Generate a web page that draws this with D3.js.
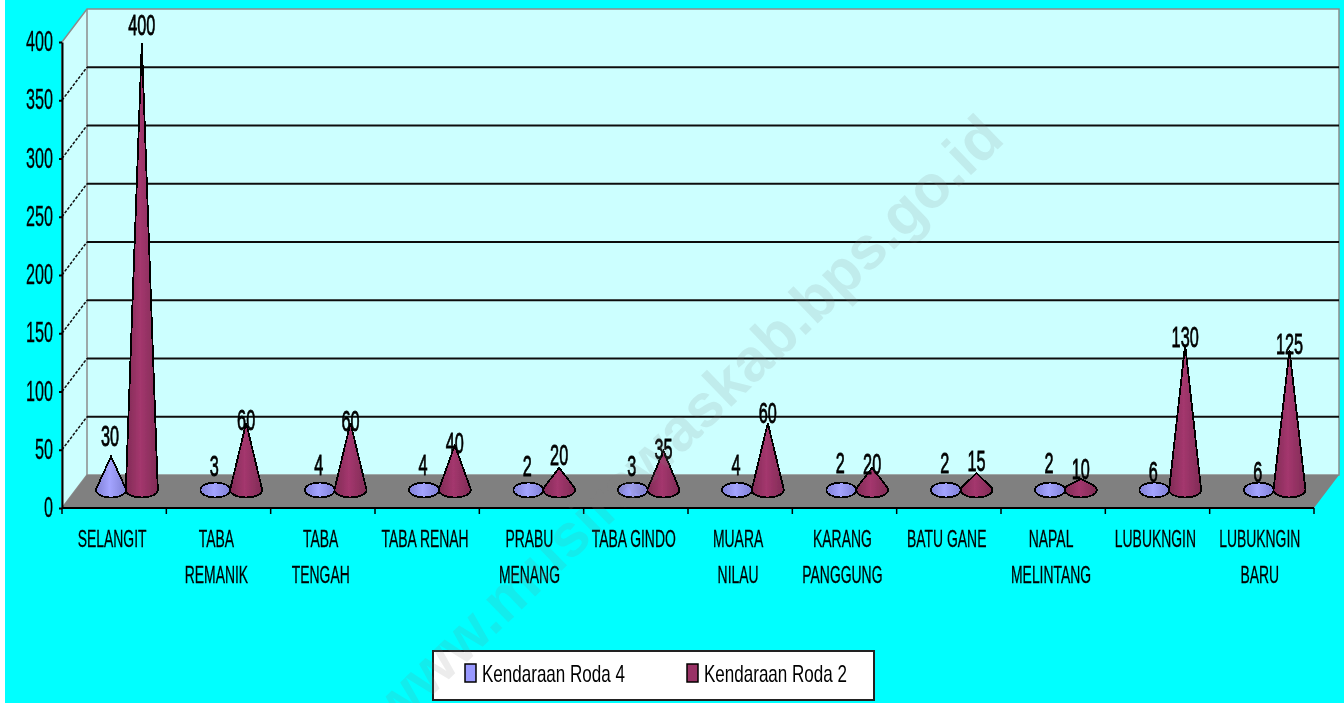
<!DOCTYPE html>
<html lang="en">
<head>
  <meta charset="UTF-8">
  <script src="https://d3js.org/d3.v7.min.js"></script>
  <title>Kendaraan Roda 4 dan Roda 2</title>
  <style>
    html, body { margin: 0; padding: 0; background: #00ffff; overflow: hidden; }
    svg { display: block; }
    text { font-family: "Liberation Sans", Arial, sans-serif; fill: #000; }
  </style>
</head>
<body>
  <svg width="1344" height="703"></svg>

  <script>
    const width = 1344, height = 703;

    // Values
    const categories = ["SELANGIT", "TABA\nREMANIK", "TABA\nTENGAH", "TABA RENAH", "PRABU\nMENANG", "TABA GINDO",
      "MUARA\nNILAU", "KARANG\nPANGGUNG", "BATU GANE", "NAPAL\nMELINTANG", "LUBUKNGIN", "LUBUKNGIN\nBARU"];
    const seriesNames = ["Kendaraan Roda 4", "Kendaraan Roda 2"];
    const roda4 = [30, 3, 4, 4, 2, 3, 4, 2, 2, 2, 6, 6];
    const roda2 = [400, 60, 60, 40, 20, 35, 60, 20, 15, 10, 130, 125];
    const yTicks = [0, 50, 100, 150, 200, 250, 300, 350, 400];
    const seriesColors = ["#9999ff", "#993366"];

    // pixels between cone tip and its value label, the original labels were placed unevenly
    const labelLift4 = [20, 21, 20, 20, 22, 21, 20, 25, 25, 25, 11, 11];
    const labelLift2 = [18, 3, 2, 2, 13, 2, 10, 4, 12, 10, 8, 6];

    // Excel style 3D box: front plane plus an offset back wall
    const front = { left: 62, right: 1314, bottom: 508, top: 42 };
    const depthX = 25, depthY = -33;

    const svg = d3.select("svg");

    const defs = svg.append("defs");
    defs.append("filter").attr("id", "soft")
      .attr("filterUnits", "userSpaceOnUse")
      .attr("x", 0).attr("y", 0).attr("width", width).attr("height", height)
      .append("feGaussianBlur").attr("stdDeviation", 0.45);

    seriesColors.forEach((c, i) => {
      const g = defs.append("linearGradient").attr("id", "cone" + i);
      g.append("stop").attr("offset", "0%").attr("stop-color", d3.color(c).darker(0.5));
      g.append("stop").attr("offset", "45%").attr("stop-color", d3.color(c).brighter(0.2));
      g.append("stop").attr("offset", "100%").attr("stop-color", d3.color(c).darker(0.5));
    });

    const root = svg.append("g").attr("filter", "url(#soft)");

    root.append("rect").attr("width", 5).attr("height", height).attr("fill", "#fff");

    const x = d3.scaleBand().domain(categories).range([front.left, front.right]);
    const y = d3.scaleLinear().domain([0, 400]).range([front.bottom, front.top]);
    // cones stand in the middle of the floor, so they get their own base line
    const coneY = d3.scaleLinear().domain([0, 400]).range([490, 43]);
    const xSeries = d3.scalePoint().domain(seriesNames).range([x.bandwidth() * 0.47, x.bandwidth() * 0.765]);

    // walls and floor
    const wall = root.append("g");
    wall.append("polygon")
      .attr("points", [
        [front.left, y(400)], [front.left + depthX, y(400) + depthY],
        [front.right + depthX, y(400) + depthY], [front.right + depthX, y(0) + depthY],
        [front.left + depthX, y(0) + depthY], [front.left, y(0)]
      ].join(" "))
      .attr("fill", "#ccffff")
      .attr("stroke", "#8c8c8c")
      .attr("stroke-width", 1.5);
    wall.append("line")
      .attr("x1", front.left + depthX).attr("x2", front.left + depthX)
      .attr("y1", y(400) + depthY).attr("y2", y(0) + depthY)
      .attr("stroke", "#8c8c8c").attr("stroke-width", 1.5);
    wall.append("polygon")
      .attr("points", [
        [front.left, y(0)], [front.left + depthX, y(0) + depthY],
        [front.right + depthX, y(0) + depthY], [front.right, y(0)]
      ].join(" "))
      .attr("fill", "#808080");

    // gridlines on the back wall, dashed where they run along the side wall
    const gridTicks = yTicks.filter(d => d > 0 && d < 400);
    root.append("g").selectAll("line").data(gridTicks).enter().append("line")
      .attr("x1", front.left + depthX).attr("x2", front.right + depthX)
      .attr("y1", d => y(d) + depthY).attr("y2", d => y(d) + depthY)
      .attr("stroke", "#111").attr("stroke-width", 2.2);
    root.append("g").selectAll("line").data(gridTicks).enter().append("line")
      .attr("x1", front.left).attr("x2", front.left + depthX)
      .attr("y1", d => y(d)).attr("y2", d => y(d) + depthY)
      .attr("stroke", "#111").attr("stroke-width", 1.5).attr("stroke-dasharray", "3 1.5");

    // axes
    const yAxis = root.append("g").attr("transform", `translate(${front.left},0)`)
      .call(d3.axisLeft(y).tickValues(yTicks).tickSize(3).tickSizeOuter(0));
    yAxis.selectAll(".domain, line").attr("stroke", "#000").attr("stroke-width", 2);
    yAxis.selectAll("text")
      .attr("x", 0).attr("dy", null)
      .attr("dominant-baseline", "central")
      .attr("transform", "translate(-9,-2) scale(0.54,1)")
      .attr("font-size", 30)
      .attr("stroke", "#000")
      .attr("stroke-width", 0.3)
      .style("font-family", null);

    const xAxis = root.append("g").attr("transform", `translate(0,${front.bottom})`);
    xAxis.append("line")
      .attr("x1", front.left).attr("x2", front.right)
      .attr("stroke", "#000").attr("stroke-width", 2);
    xAxis.selectAll("line.tick").data(d3.range(categories.length + 1)).enter().append("line")
      .attr("class", "tick")
      .attr("x1", i => front.left + i * x.step()).attr("x2", i => front.left + i * x.step())
      .attr("y2", 6)
      .attr("stroke", "#000").attr("stroke-width", 1.5);

    // category labels, two lines where the original wraps
    root.append("g").selectAll("g").data(categories).enter().append("g")
      .attr("transform", d => `translate(${x(d) + x.bandwidth() * 0.48},0)`)
      .selectAll("text").data(d => d.split("\n")).enter().append("text")
      .attr("transform", (d, i) => `translate(0,${538 + i * 36}) scale(0.58,1)`)
      .attr("text-anchor", "middle")
      .attr("dominant-baseline", "central")
      .attr("font-size", 24)
      .attr("stroke", "#000")
      .attr("stroke-width", 0.3)
      .text(d => d);

    // one silhouette per cone: base ellipse plus tangents to the tip
    function conePath(cx, v, rx, ry) {
      const cy = coneY(0), tip = coneY(v), h = cy - tip;
      if (h <= ry) {
        return `M${cx - rx},${cy}A${rx},${ry} 0 1 1 ${cx + rx},${cy}A${rx},${ry} 0 1 1 ${cx - rx},${cy}Z`;
      }
      const ty = cy - ry * ry / h;
      const tx = rx * Math.sqrt(1 - (ry * ry) / (h * h));
      return `M${cx},${tip}L${cx + tx},${ty}A${rx},${ry} 0 1 1 ${cx - tx},${ty}Z`;
    }

    const seriesValues = [roda4, roda2];
    const labelLifts = [labelLift4, labelLift2];
    seriesValues.forEach((values, s) => {
      const name = seriesNames[s];
      root.append("g").selectAll("path").data(values).enter().append("path")
        .attr("d", (v, i) => conePath(x(categories[i]) + xSeries(name), v, s ? 16 : 15, 7.5))
        .attr("fill", `url(#cone${s})`)
        .attr("stroke", "#000")
        .attr("stroke-width", 1.8)
        .attr("shape-rendering", "crispEdges");
    });

    // value labels
    seriesValues.forEach((values, s) => {
      const name = seriesNames[s];
      root.append("g").selectAll("text").data(values).enter().append("text")
        .attr("transform", (v, i) => {
          const lx = x(categories[i]) + xSeries(name) - (s ? 0 : 1);
          const ly = coneY(v) - labelLifts[s][i];
          return `translate(${lx},${ly}) scale(0.56,1)`;
        })
        .attr("text-anchor", "middle")
        .attr("dominant-baseline", "central")
        .attr("font-size", 29)
        .attr("stroke", "#000")
        .attr("stroke-width", 0.8)
        .text(v => v);
    });

    // legend
    const legend = root.append("g");
    legend.append("rect")
      .attr("x", 433).attr("y", 651).attr("width", 441).attr("height", 49)
      .attr("fill", "#fff").attr("stroke", "#222").attr("stroke-width", 2);
    const legendItems = legend.selectAll("g").data(seriesNames).enter().append("g")
      .attr("transform", (d, i) => `translate(${465 + i * 222},664)`);
    legendItems.append("rect")
      .attr("width", 11).attr("height", 18)
      .attr("fill", (d, i) => seriesColors[i])
      .attr("stroke", "#000").attr("stroke-width", 1.5);
    legendItems.append("text")
      .attr("transform", "translate(17,9) scale(0.71,1)")
      .attr("dominant-baseline", "central")
      .attr("font-size", 24)
      .text(d => d);

    // site watermark across the whole chart, runs off the bottom edge as in the original
    svg.append("text")
      .attr("transform", "translate(686,422) rotate(-44)")
      .attr("text-anchor", "middle")
      .attr("dominant-baseline", "central")
      .attr("font-size", 60)
      .attr("font-weight", "bold")
      .style("fill", "#808080")
      .style("fill-opacity", 0.15)
      .text("www.musirawaskab.bps.go.id");
  </script>
</body>
</html>
